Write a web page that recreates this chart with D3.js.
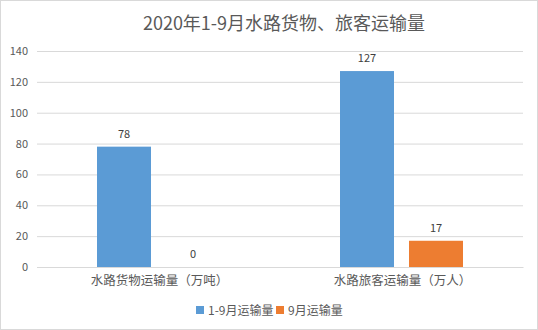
<!DOCTYPE html>
<html><head><meta charset="utf-8">
<script src="https://cdn.jsdelivr.net/npm/d3@7"></script>
<style>body{margin:0;background:#fff}svg{display:block}text{font-family:"Noto Sans CJK SC","Noto Sans",sans-serif}</style>
</head><body>
<script>
const title = "2020年1-9月水路货物、旅客运输量";
const categories = ["水路货物运输量（万吨）", "水路旅客运输量（万人）"];
const seriesNames = ["1-9月运输量", "9月运输量"];
const series1 = [78, 127];
const series2 = [0, 17];
const yTicks = [0, 20, 40, 60, 80, 100, 120, 140];
const colors = ["#5B9BD5", "#ED7D31"];

(function () {
const W = 538, H = 330;
const svg = d3.select("body").append("svg").attr("width", W).attr("height", H);
svg.append("rect").attr("x", 0.5).attr("y", 0.5).attr("width", W - 1).attr("height", H - 1)
  .attr("fill", "#fff").attr("stroke", "#d9d9d9");

const mL = 37, mR = 523, mT = 51, mB = 267;
const y = d3.scaleLinear().domain([0, 140]).range([mB, mT]);
const x0 = d3.scaleBand().domain(categories).range([mL, mR]);
const x1 = d3.scaleBand().domain(seriesNames).range([60, 183]).paddingInner(15 / 69);

svg.append("text").attr("x", 284).attr("y", 30).attr("text-anchor", "middle")
  .attr("font-size", 18).attr("fill", "#595959").text(title);

const yAxis = d3.axisLeft(y).tickValues(yTicks).tickSize(-(mR - mL)).tickPadding(9);
const gy = svg.append("g").attr("transform", `translate(${mL},0)`).call(yAxis);
gy.select(".domain").remove();
gy.selectAll(".tick line").attr("stroke", "#d9d9d9");
gy.selectAll(".tick text").attr("fill", "#595959").attr("font-size", 11);

const data = categories.map((c, i) => ({ cat: c, vals: [series1[i], series2[i]] }));
const groups = svg.selectAll(".grp").data(data).join("g").attr("class", "grp")
  .attr("transform", d => `translate(${x0(d.cat)},0)`);
groups.selectAll("rect").data(d => d.vals.map((v, j) => ({ v, s: seriesNames[j], j })))
  .join("rect")
  .attr("x", d => x1(d.s)).attr("width", x1.bandwidth())
  .attr("y", d => y(d.v)).attr("height", d => mB - y(d.v))
  .attr("fill", d => colors[d.j]);
groups.selectAll("text.lbl").data(d => d.vals.map((v, j) => ({ v, s: seriesNames[j], j })))
  .join("text").attr("class", "lbl")
  .attr("x", d => x1(d.s) + x1.bandwidth() / 2).attr("y", d => y(d.v) - 9)
  .attr("text-anchor", "middle").attr("font-size", 11).attr("fill", "#404040")
  .text(d => d.v);

const xAxis = d3.axisBottom(x0).tickSize(0).tickPadding(9);
const gx = svg.append("g").attr("transform", `translate(0,${mB})`).call(xAxis);
gx.select(".domain").attr("stroke", "#d9d9d9");
gx.selectAll(".tick text").attr("fill", "#595959").attr("font-size", 12.5)
  .attr("transform", "translate(1,0)");

const legendItems = [{ name: seriesNames[0], x: 196 }, { name: seriesNames[1], x: 276 }];
const lg = svg.append("g");
legendItems.forEach((it, i) => {
  lg.append("rect").attr("x", it.x).attr("y", 306).attr("width", 8).attr("height", 8).attr("fill", colors[i]);
  lg.append("text").attr("x", it.x + 12).attr("y", 314.5).attr("font-size", 12).attr("fill", "#595959").text(it.name);
});
})();
</script>
</body></html>
